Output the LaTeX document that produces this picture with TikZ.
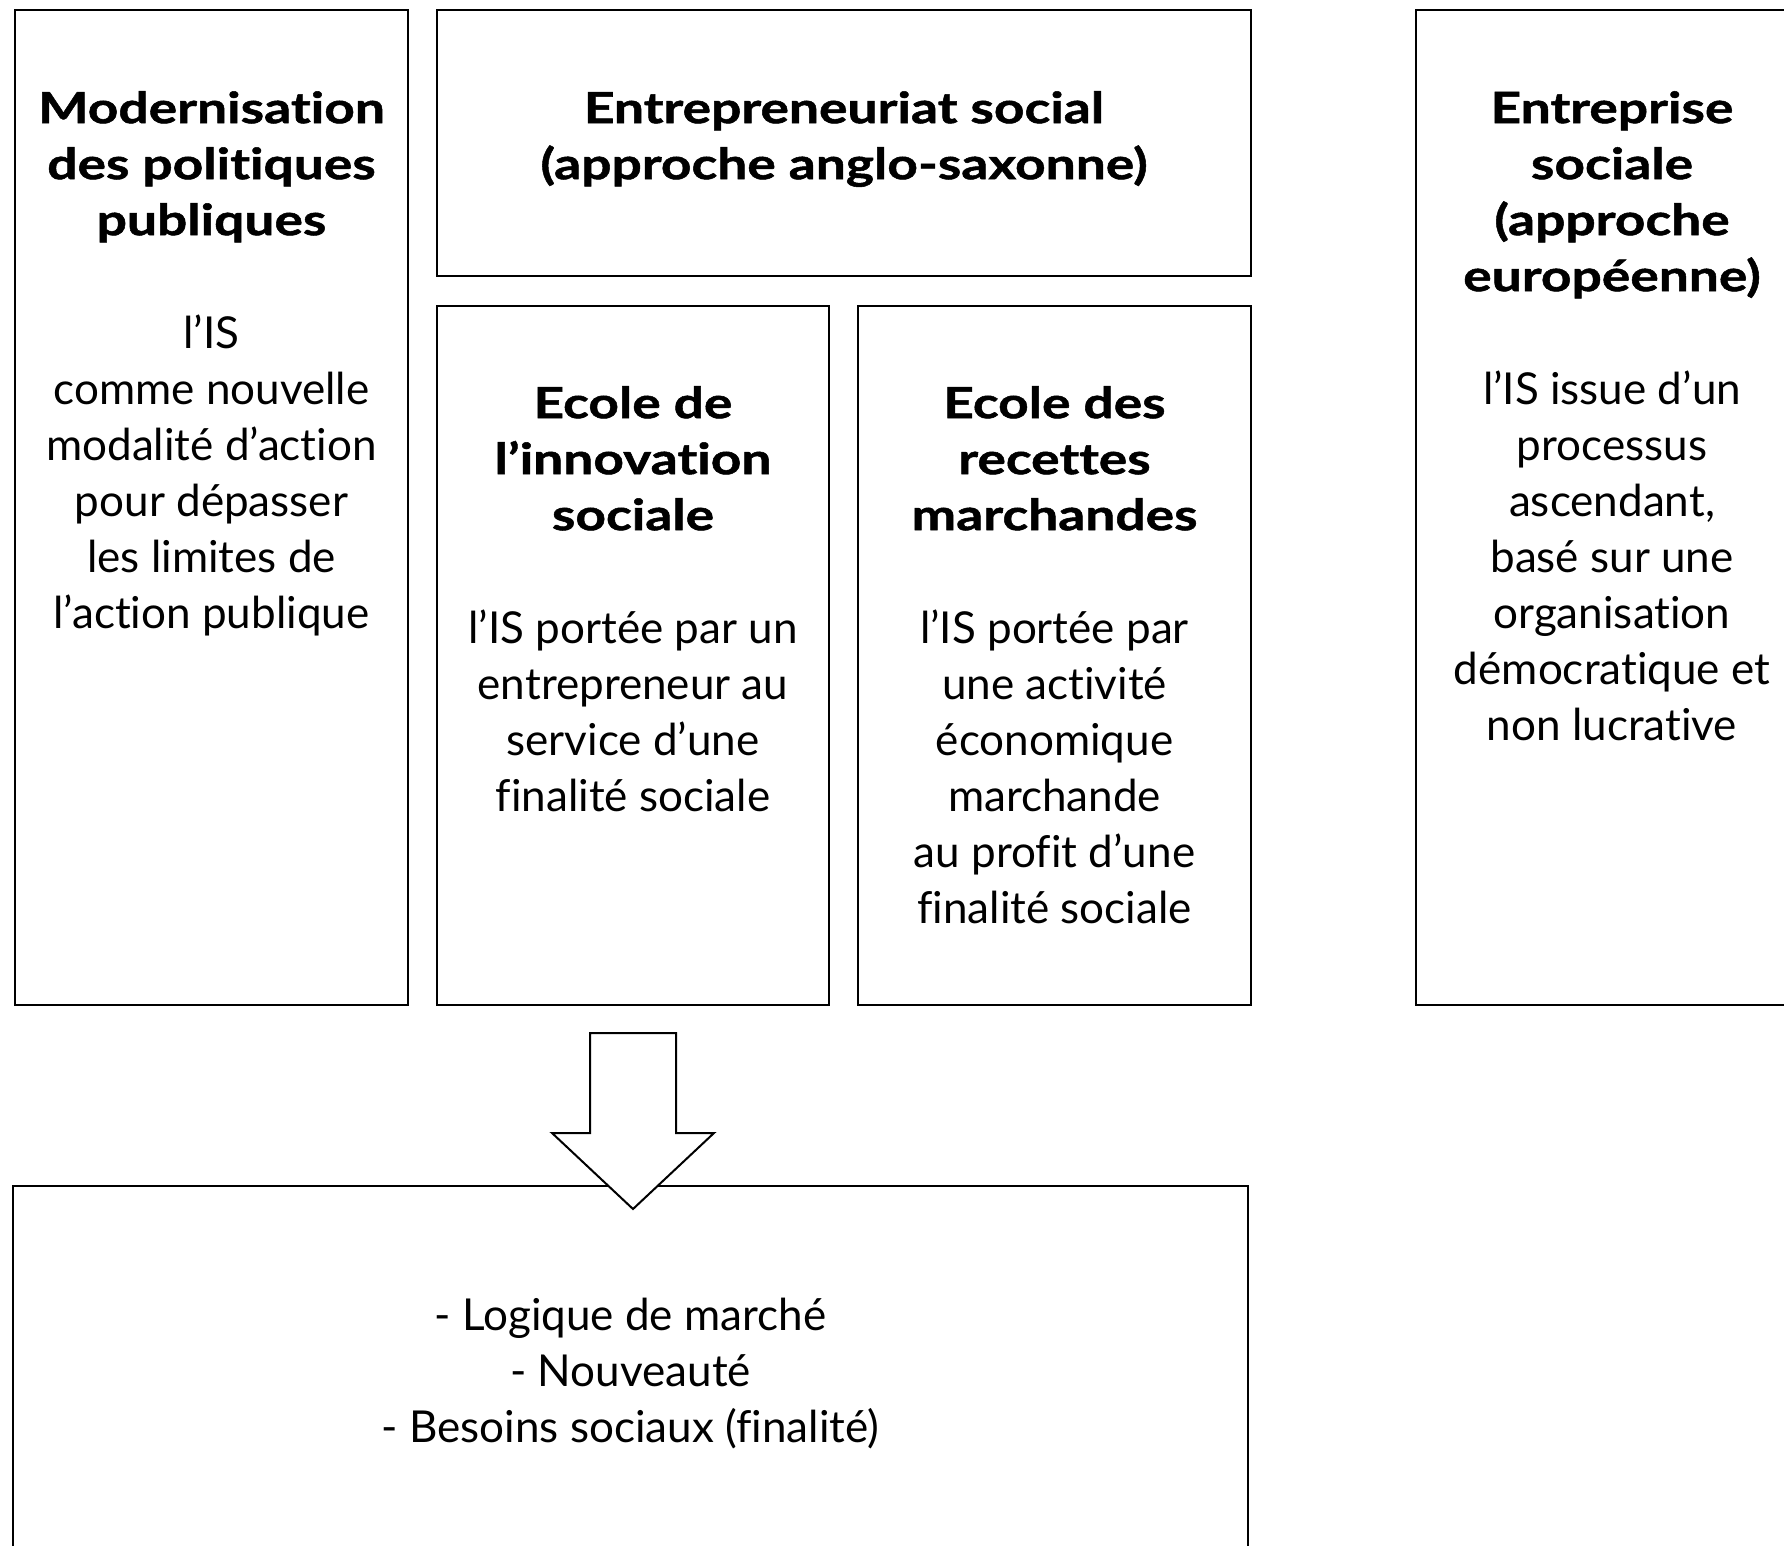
\documentclass[tikz,border=0pt]{standalone}
\usepackage{fontspec}
\setmainfont{Lato}[Ligatures=NoCommon,BoldFeatures={FakeStretch=1.24,FakeBold=1.2}]
\usetikzlibrary{positioning}
\tikzset{
  bloc/.style={draw,line width=2pt,inner sep=0pt,anchor=north west},
  texte/.style={align=center,inner sep=0pt,anchor=north,font=\fontsize{44}{56}\selectfont},
  titre/.style={texte,font=\fontsize{43}{56}\selectfont\bfseries},
  fleche/.style={draw,fill=white,line width=2pt,line join=miter},
}
\begin{document}
\begin{tikzpicture}[x=1pt,y=-1pt]
\useasboundingbox (0,0) rectangle (1784,1545);
% cadres
\node[bloc,minimum width=393pt,minimum height=995pt] (modern) at (14,9) {};
\node[bloc,minimum width=814pt,minimum height=266pt] (entrep) at (436,9) {};
\node[bloc,minimum width=392pt,minimum height=699pt] (inno) at (436,305) {};
\node[bloc,minimum width=393pt,minimum height=699pt] (recettes) at (857,305) {};
\node[bloc,minimum width=392pt,minimum height=995pt] (europ) at (1415,9) {};
\node[bloc,minimum width=1235pt,minimum height=400pt] (synthese) at (12,1185) {};
% titres
\node[titre] (titre-modern) at ([yshift=-82pt]modern.north) {Modernisation\\des politiques\\publiques};
\node[titre] (titre-entrep) at ([yshift=-82pt]entrep.north) {Entrepreneuriat social\\(approche anglo-saxonne)};
\node[titre] (titre-inno) at ([yshift=-81pt]inno.north) {Ecole de\\l’innovation\\sociale};
\node[titre] (titre-recettes) at ([yshift=-81pt]recettes.north) {Ecole des\\recettes\\marchandes};
\node[titre] (titre-europ) at ([yshift=-82pt]europ.north) {Entreprise\\sociale\\(approche\\européenne)};
% textes
\node[texte] (texte-modern) at ([yshift=-306pt]modern.north) {l’IS\\comme nouvelle\\modalité d’action\\pour dépasser\\les limites de\\l’action publique};
\node[texte] (texte-inno) at ([yshift=-305pt]inno.north) {l’IS portée par un\\entrepreneur au\\service d’une\\finalité sociale};
\node[texte] (texte-recettes) at ([yshift=-305pt]recettes.north) {l’IS portée par\\une activité\\économique\\marchande\\au profit d’une\\finalité sociale};
\node[texte] (texte-europ) at ([yshift=-362pt]europ.north) {l’IS issue d’un\\processus\\ascendant,\\basé sur une\\organisation\\démocratique et\\non lucrative};
\node[texte] (texte-synthese) at ([yshift=-113pt]synthese.north) {- Logique de marché\\- Nouveauté\\- Besoins sociaux (finalité)};
% grosse fleche
\coordinate (haut) at ([yshift=-27pt]inno.south);
\draw[fleche] (haut) ++(-43,0) -- ++(86,0) -- ++(0,100) -- ++(38,0)
  -- ++(-81,76) -- ++(-81,-76) -- ++(38,0) -- cycle;
\end{tikzpicture}
\end{document}
